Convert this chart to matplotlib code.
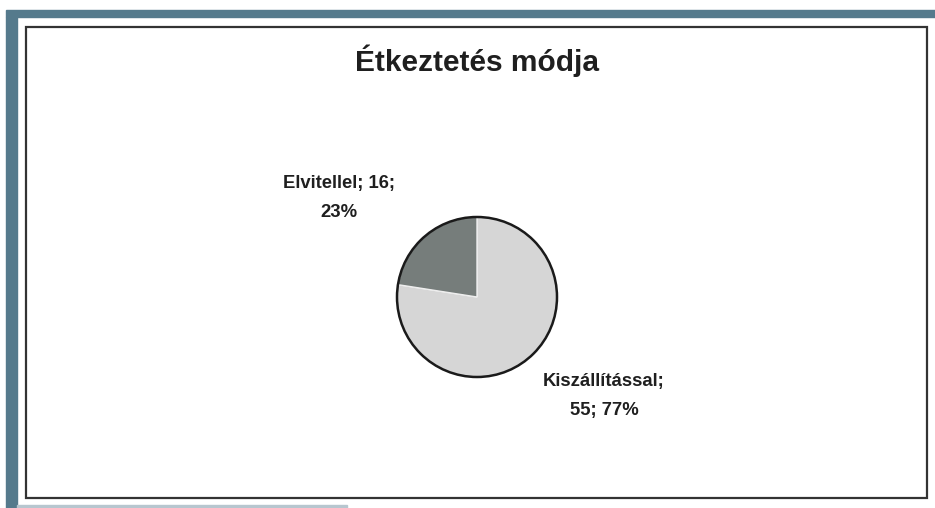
import matplotlib.pyplot as plt
from matplotlib.patches import Rectangle, Circle

plt.rcParams['font.family'] = ['Liberation Sans', 'DejaVu Sans']

# data
title = "Étkeztetés módja"
categories = ["Kiszállítással", "Elvitellel"]
values = [55, 16]
colors = ["#d6d6d6", "#767d7b"]

W, H = 935, 508


def px(x, y):
    """Pixel position (from top-left) to figure fraction."""
    return x / W, 1 - y / H


def draw_frame(fig):
    """Blue-gray scan border and the black chart-area rectangle."""
    band = "#557a8c"
    fig.patches.append(Rectangle(px(6, 17), 929 / W, 7 / H, transform=fig.transFigure,
                                 color=band, zorder=0))
    fig.patches.append(Rectangle(px(6, 508), 11 / W, 491 / H, transform=fig.transFigure,
                                 color=band, zorder=0))
    fig.patches.append(Rectangle(px(17, 508), 330 / W, 3 / H, transform=fig.transFigure,
                                 color="#b7c6cf", zorder=0))
    fig.patches.append(Rectangle(px(26, 498), 901 / W, 471 / H, transform=fig.transFigure,
                                 fill=False, edgecolor="#333333", linewidth=1.6, zorder=1))


def plot_pie(fig):
    cx, cy, r = 477, 297, 80
    pad = 84
    x0, y0 = px(cx - pad, cy + pad)
    ax = fig.add_axes([x0, y0, 2 * pad / W, 2 * pad / H])
    wedges, _ = ax.pie(values, colors=colors, startangle=90, counterclock=False,
                       wedgeprops=dict(edgecolor="#eeeeee", linewidth=1.0))
    ax.add_patch(Circle((0, 0), 1, fill=False, edgecolor="#1a1a1a", linewidth=1.8))
    lim = pad / r
    ax.set_xlim(-lim, lim)
    ax.set_ylim(-lim, lim)
    ax.axis("off")

    total = sum(values)
    pcts = [round(v / total * 100) for v in values]
    labels = [
        f"{categories[0]};\n{values[0]}; {pcts[0]}%",
        f"{categories[1]}; {values[1]};\n{pcts[1]}%",
    ]
    positions = [(604, 396), (339, 198)]
    for lab, (x, y) in zip(labels, positions):
        fx, fy = px(x, y)
        fig.text(fx, fy, lab, ha="center", va="center", fontsize=13.3,
                 fontweight="bold", color="#1f1f1f", linespacing=1.85)


if __name__ == "__main__":
    fig = plt.figure(figsize=(W / 100, H / 100), dpi=100)
    fig.patch.set_facecolor("white")
    draw_frame(fig)
    tx, ty = px(477, 61)
    fig.text(tx, ty, title, ha="center", va="center", fontsize=21.5,
             fontweight="bold", color="#1f1f1f")
    plot_pie(fig)
    fig.savefig("out.png", dpi=100)
